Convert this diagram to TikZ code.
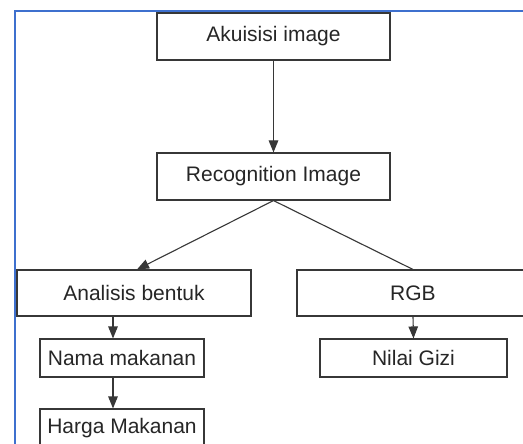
\documentclass[tikz,border=0pt]{standalone}
\usepackage{fontspec}
\setmainfont{Liberation Sans}
\usetikzlibrary{arrows.meta}
\definecolor{frameblue}{RGB}{62,112,206}
\definecolor{boxline}{RGB}{55,55,55}
\begin{document}
\begin{tikzpicture}[x=1pt,y=-1pt,
  box/.style={draw=boxline,line width=1.1pt,fill=white,inner sep=0pt,
    font=\fontsize{21}{25}\selectfont,text=black!85},
  conn/.style={draw=boxline,line width=1.1pt},
  arr/.style={conn,-{Triangle[length=12pt,width=9.5pt]}}]
\useasboundingbox (0,0) rectangle (523,444);
\clip (0,0) rectangle (523,444);
\fill[white] (0,0) rectangle (523,444);
% blue frame
\draw[frameblue,line width=2pt] (15,444) -- (15,11) -- (523,11);
% boxes
\node[box,minimum width=233pt,minimum height=47pt] (acq) at (273.5,36.5) {Akuisisi image};
\node[box,minimum width=233pt,minimum height=47pt] (rec) at (273.5,176.5) {Recognition Image};
\node[box,minimum width=234pt,minimum height=46pt] (ana) at (134,293) {Analisis bentuk};
\node[box,minimum width=232pt,minimum height=46pt] (rgb) at (413,293) {RGB};
\node[box,minimum width=164pt,minimum height=38pt] (nama) at (122,358) {Nama makanan};
\node[box,minimum width=164pt,minimum height=38pt] (harga) at (122,428) {Harga Makanan};
\node[box,minimum width=187pt,minimum height=38pt] (gizi) at (413.5,358) {Nilai Gizi};
% connectors
\coordinate (lx) at (113,0);
\coordinate (ax) at (137,0);
\draw[arr] (acq.south) -- (rec.north);
\draw[arr] (rec.south) -- (ana.north -| ax);
\draw[conn] (rec.south) -- (rgb.north);
\draw[arr] (ana.south -| lx) -- (nama.north -| lx);
\draw[arr] (nama.south -| lx) -- (harga.north -| lx);
\draw[arr] (rgb.south) -- (gizi.north);
\end{tikzpicture}
\end{document}
